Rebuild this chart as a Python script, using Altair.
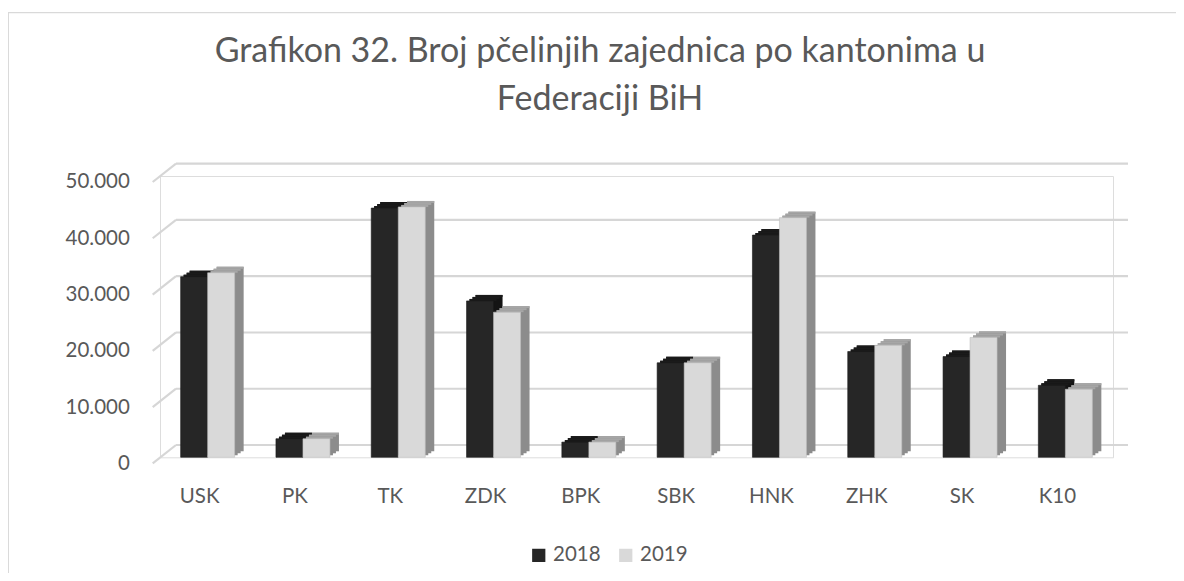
import altair as alt
import pandas as pd

# ---- data ----
kantoni = ["USK", "PK", "TK", "ZDK", "BPK", "SBK", "HNK", "ZHK", "SK", "K10"]
v2018 = [32100, 3300, 44300, 27800, 2700, 16800, 39500, 18800, 17900, 12800]
v2019 = [32800, 3300, 44500, 25800, 2700, 16800, 42600, 19900, 21300, 12100]
godine = ["2018", "2019"]
y_ticks = [0, 10000, 20000, 30000, 40000, 50000]
title_lines = ["Grafikon 32. Broj pčelinjih zajednica po kantonima u", "Federaciji BiH"]

FONT = "Lato"
TXT = "#595959"
W, H = 953, 281.3

df = pd.DataFrame({
    "kanton": kantoni * 2,
    "godina": [godine[0]] * len(kantoni) + [godine[1]] * len(kantoni),
    "broj": v2018 + v2019,
})
grid_df = pd.DataFrame({"v": y_ticks})
one = pd.DataFrame({"a": [0]})

x_enc = alt.X(
    "kanton:N", sort=kantoni,
    scale=alt.Scale(domain=kantoni, paddingInner=0.4334, paddingOuter=0.2167),
    axis=alt.Axis(title=None, domain=False, ticks=False, tickSize=0, grid=False,
                  labelFont=FONT, labelFontSize=20.5, labelColor=TXT,
                  labelPadding=45.4, labelBaseline="alphabetic", labelOffset=-8,
                  labelAngle=0),
)
y_scale = alt.Scale(domain=[0, 50000], nice=False, zero=True)
y_axis = alt.Axis(title=None, values=y_ticks, domain=False, ticks=False, tickSize=0,
                  grid=False, labelFont=FONT, labelFontSize=20.5, labelColor=TXT,
                  labelPadding=30.7, labelOffset=6,
                  labelExpr="replace(format(datum.value, ','), ',', '.')")

def Y(field):
    return alt.Y(field, scale=y_scale, axis=y_axis)

GRID = "#d6d6d6"
back = alt.Chart(grid_df).mark_rule(color=GRID, strokeWidth=2.2, yOffset=-12.3).encode(
    y=Y("v:Q"), x=alt.value(16), x2=alt.value(968))
diag = alt.Chart(grid_df).mark_rule(color=GRID, strokeWidth=2.2, yOffset=6, y2Offset=-12.3).encode(
    y=Y("v:Q"), y2="v:Q", x=alt.value(-7.3), x2=alt.value(16))

border = alt.Chart(one).mark_rect(filled=False, stroke="#d9d9d9", strokeWidth=1.3).encode(
    x=alt.value(-151.7), x2=alt.value(1100), y=alt.value(-163.3), y2=alt.value(500))

t1 = alt.Chart(one).mark_text(font=FONT, fontSize=34, color=TXT, align="center",
                              baseline="alphabetic").encode(
    x=alt.value(440), y=alt.value(-114.3), text=alt.value(title_lines[0]))
t2 = alt.Chart(one).mark_text(font=FONT, fontSize=34, color=TXT, align="center",
                              baseline="alphabetic").encode(
    x=alt.value(440), y=alt.value(-66), text=alt.value(title_lines[1]))

color_enc = alt.Color("godina:N", scale=alt.Scale(domain=godine, range=["#262626", "#d9d9d9"]),
                      legend=alt.Legend(orient="none", legendX=368.5, legendY=369,
                                        direction="horizontal", title=None,
                                        symbolType="square", symbolSize=175,
                                        symbolStrokeWidth=0, labelFont=FONT,
                                        labelFontSize=20.5, labelColor=TXT,
                                        labelOffset=4, columnPadding=14, padding=0))

styles = {
    "2018": dict(d=-13.5, side="#141414", top="#1a1a1a", stroke="#1a1a1a"),
    "2019": dict(d=13.5, side="#8c8c8c", top="#a6a6a6", stroke="#bfbfbf"),
}
bar_layers = []
for g in godine:
    s = styles[g]
    base = alt.Chart(df[df["godina"] == g])
    for k in (1, 2, 3):
        bar_layers.append(base.mark_bar(width=27, xOffset=s["d"] + 3 * k, yOffset=-2 * k,
                                        y2Offset=-2 * k, color=s["side"]).encode(
            x=x_enc, y=Y("broj:Q")))
    for k in (1, 2, 3):
        bar_layers.append(base.mark_bar(width=27, xOffset=s["d"] + 3 * k, yOffset=-2 * k,
                                        y2Offset=-2 * k + 2, color=s["top"]).encode(
            x=x_enc, y=Y("broj:Q"), y2="broj:Q"))
    bar_layers.append(base.mark_bar(width=27, xOffset=s["d"], stroke=s["stroke"],
                                    strokeWidth=0.6).encode(
        x=x_enc, y=Y("broj:Q"), color=color_enc))

chart = alt.layer(border, back, diag, *bar_layers, t1, t2).properties(
    width=W, height=H,
    padding={"left": 152, "top": 168, "right": 63, "bottom": 116},
    autosize=alt.AutoSizeParams(type="none"),
).configure_view(stroke=None).configure(background="white")

chart.save("out.html", embed_options={"renderer": "svg", "actions": False})
